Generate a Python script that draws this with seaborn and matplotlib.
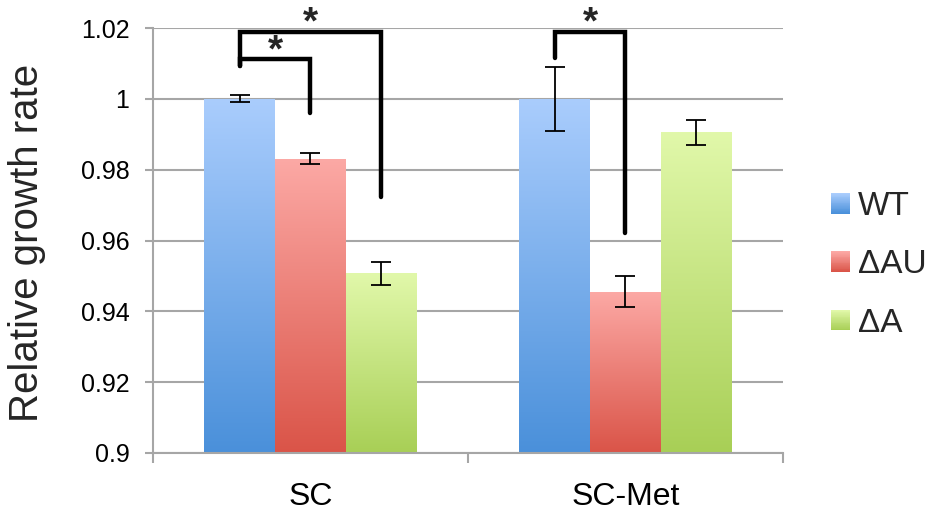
import matplotlib

matplotlib.use("Agg")
import matplotlib.pyplot as plt
import numpy as np
import pandas as pd
import seaborn as sns
from matplotlib.colors import to_rgb
from matplotlib.legend_handler import HandlerBase
from matplotlib.patches import Patch, Rectangle

sns.set_theme(style="white")
plt.rcParams["font.family"] = ["Liberation Sans", "DejaVu Sans"]

media = ["SC", "SC-Met"]
strains = ["WT", "ΔAU", "ΔA"]
wt_rate = [1.0, 1.0]
wt_err = [0.001, 0.009]
dau_rate = [0.9831, 0.9456]
dau_err = [0.0015, 0.0044]
da_rate = [0.9507, 0.9905]
da_err = [0.0032, 0.0034]

y_ticks = [0.9, 0.92, 0.94, 0.96, 0.98, 1.0, 1.02]
y_tick_labels = ["0.9", "0.92", "0.94", "0.96", "0.98", "1", "1.02"]

# gradient colours (top, bottom) per strain
grad_top = {"WT": "#aacdfd", "ΔAU": "#fca9a5", "ΔA": "#e1f8aa"}
grad_bottom = {"WT": "#4a90da", "ΔAU": "#da5448", "ΔA": "#a8cf56"}

# significance brackets: (medium, strain a, strain b, top y, bottom a, bottom b, star y)
brackets = [
    ("SC", "WT", "ΔA", 1.0189, 1.0093, 0.9723, 1.0185),
    ("SC", "WT", "ΔAU", 1.0113, 1.0093, 0.9960, 1.0105),
    ("SC-Met", "WT", "ΔAU", 1.0189, 1.0115, 0.9621, 1.0185),
]

df = pd.DataFrame(
    {
        "medium": media * 3,
        "strain": np.repeat(strains, len(media)),
        "rate": wt_rate + dau_rate + da_rate,
        "err": wt_err + dau_err + da_err,
    }
)


class GradientHandler(HandlerBase):
    def __init__(self, top, bottom, steps=24):
        super().__init__()
        self.top = np.array(to_rgb(top))
        self.bottom = np.array(to_rgb(bottom))
        self.steps = steps

    def create_artists(self, legend, orig_handle, xdescent, ydescent, width, height, fontsize, trans):
        arts = []
        for i in range(self.steps):
            t = i / (self.steps - 1)
            c = self.bottom * (1 - t) + self.top * t
            arts.append(
                Rectangle(
                    (-xdescent, -ydescent + height * i / self.steps),
                    width,
                    height / self.steps * 1.05,
                    facecolor=c,
                    edgecolor="none",
                    transform=trans,
                )
            )
        return arts


fig = plt.figure(figsize=(9.31, 5.17), dpi=100)
ax = fig.add_axes([0.1643, 0.1238, 0.6767, 0.8220])

sns.barplot(
    data=df,
    x="medium",
    y="rate",
    hue="strain",
    order=media,
    hue_order=strains,
    palette=[grad_bottom[s] for s in strains],
    width=0.673,
    errorbar=None,
    legend=False,
    ax=ax,
)

ax.set_ylim(0.9, 1.02)
ax.set_xlim(-0.5, 1.5)

# gradient fill + error bars
centers = {}
for strain, cont in zip(strains, ax.containers):
    top = np.array(to_rgb(grad_top[strain]))
    bot = np.array(to_rgb(grad_bottom[strain]))
    grad = np.linspace(0, 1, 256)[:, None, None]
    img = top * (1 - grad) + bot * grad
    for med, bar in zip(media, cont):
        x0 = bar.get_x()
        w = bar.get_width()
        h = bar.get_height()
        bar.set_facecolor("none")
        bar.set_edgecolor("none")
        im = ax.imshow(
            img,
            extent=[x0, x0 + w, 0.9, h],
            aspect="auto",
            origin="upper",
            zorder=1.5,
        )
        im.set_clip_path(bar)
        centers[(med, strain)] = (x0 + w / 2, h)
        e = df[(df.medium == med) & (df.strain == strain)]["err"].iloc[0]
        ax.errorbar(
            x0 + w / 2, h, yerr=e, color="black", lw=1.3, capsize=7, capthick=1.3, zorder=3
        )

ax.set_aspect("auto")
ax.set_xlim(-0.5, 1.5)
ax.set_ylim(0.9, 1.02)

# brackets
for med, a, b, ytop, ya, yb, ystar in brackets:
    xa = centers[(med, a)][0]
    xb = centers[(med, b)][0]
    ax.plot(
        [xa, xa, xb, xb],
        [ya, ytop, ytop, yb],
        color="black",
        lw=3.2,
        solid_joinstyle="miter",
        clip_on=False,
        zorder=4,
    )
    ax.text(
        (xa + xb) / 2, ystar, "*", ha="center", va="baseline",
        fontsize=28, fontweight="bold", clip_on=False,
    )

# axes styling
grid_c = "#a6a6a6"
ax.set_yticks(y_ticks)
ax.set_yticklabels(y_tick_labels, fontsize=18, color="black")
ax.yaxis.grid(True, color=grid_c, lw=1.5)
ax.set_axisbelow(True)
ax.set_xticks([0, 1])
ax.set_xticklabels(media, fontsize=23, color="black")
ax.set_xticks([-0.5, 0.5, 1.5], minor=True)
ax.tick_params(axis="x", which="major", length=0, pad=21)
ax.tick_params(axis="x", which="minor", length=7, width=1.5, color=grid_c, bottom=True)
ax.tick_params(axis="y", length=6, width=1.5, color=grid_c, pad=11, left=True)
for side in ["top", "right"]:
    ax.spines[side].set_visible(False)
for side in ["left", "bottom"]:
    ax.spines[side].set_color(grid_c)
    ax.spines[side].set_linewidth(1.5)
ax.set_xlabel("")
ax.set_ylabel("")

fig.text(27.5 / 931, 1 - 243 / 517, "Relative growth rate", rotation=90,
         ha="center", va="center", fontsize=29)

handles = [Patch(label=s) for s in strains]
hmap = {h: GradientHandler(grad_top[s], grad_bottom[s]) for h, s in zip(handles, strains)}
fig.legend(
    handles=handles,
    labels=strains,
    handler_map=hmap,
    loc="center left",
    bbox_to_anchor=(831 / 931, 1 - 265 / 517),
    frameon=False,
    fontsize=24,
    handlelength=0.57,
    handleheight=0.57,
    handletextpad=0.25,
    labelspacing=0.82,
    borderpad=0,
    borderaxespad=0,
)

fig.savefig("out.png", dpi=100)
plt.close("all")
